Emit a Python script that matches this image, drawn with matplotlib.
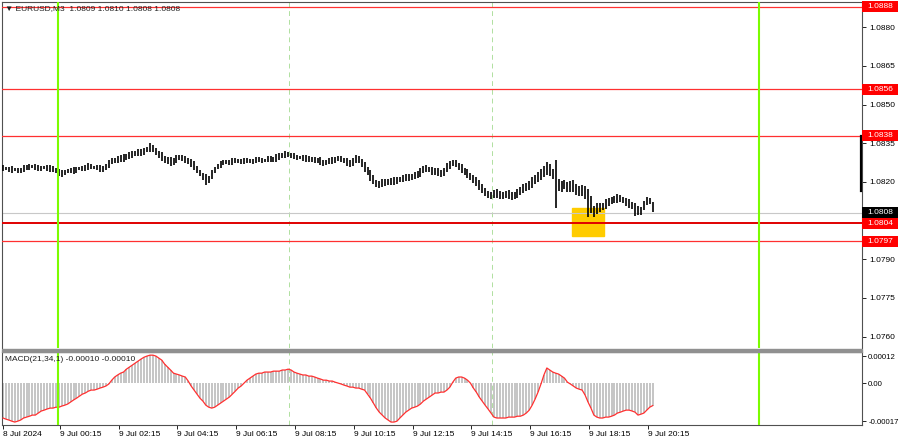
import matplotlib
matplotlib.use('Agg')
import matplotlib.pyplot as plt
from matplotlib.patches import Rectangle

plt.rcParams['font.family'] = ['Liberation Sans', 'DejaVu Sans']

# EURUSD M3 closes (one value per drawn bar)
closes = [
    1.08254, 1.08250, 1.08247, 1.08250, 1.08247, 1.08243, 1.08247, 1.08258, 1.08254, 1.08262,
    1.08258, 1.08258, 1.08250, 1.08254, 1.08258, 1.08250, 1.08254, 1.08247, 1.08243, 1.08231,
    1.08235, 1.08239, 1.08243, 1.08247, 1.08243, 1.08250, 1.08254, 1.08250, 1.08258, 1.08262,
    1.08258, 1.08254, 1.08258, 1.08247, 1.08254, 1.08262,
    1.08278, 1.08285, 1.08281, 1.08293, 1.08289, 1.08297, 1.08297, 1.08309, 1.08305, 1.08313,
    1.08316, 1.08313, 1.08324, 1.08328, 1.08336,
    1.08324, 1.08313, 1.08301, 1.08293, 1.08281, 1.08285, 1.08274, 1.08285, 1.08293, 1.08297,
    1.08289, 1.08285, 1.08278, 1.08270, 1.08254, 1.08243, 1.08227, 1.08216, 1.08204, 1.08216,
    1.08239, 1.08254, 1.08266, 1.08270, 1.08278, 1.08274, 1.08278, 1.08281, 1.08285, 1.08278,
    1.08281, 1.08281, 1.08285, 1.08278, 1.08281, 1.08289, 1.08285, 1.08281, 1.08285, 1.08293,
    1.08285, 1.08289, 1.08297, 1.08301, 1.08305,
    1.08309, 1.08301, 1.08305, 1.08297, 1.08293, 1.08297, 1.08289, 1.08293, 1.08285, 1.08289,
    1.08281, 1.08285, 1.08278, 1.08270, 1.08278, 1.08285, 1.08281, 1.08289, 1.08293, 1.08285,
    1.08281, 1.08274, 1.08270, 1.08285, 1.08293, 1.08281, 1.08266,
    1.08250, 1.08235, 1.08216, 1.08200, 1.08188, 1.08192, 1.08200, 1.08196, 1.08204, 1.08200,
    1.08208, 1.08204, 1.08212, 1.08216, 1.08219, 1.08216, 1.08223, 1.08227, 1.08231, 1.08243,
    1.08254, 1.08250, 1.08247, 1.08239, 1.08243, 1.08235, 1.08231, 1.08247,
    1.08262, 1.08270, 1.08278, 1.08266, 1.08254, 1.08247, 1.08235, 1.08227, 1.08216, 1.08208,
    1.08196, 1.08181, 1.08165, 1.08157, 1.08146, 1.08150, 1.08157, 1.08153, 1.08146, 1.08150,
    1.08153, 1.08150, 1.08142, 1.08153, 1.08161, 1.08169, 1.08177, 1.08184, 1.08192, 1.08204,
    1.08216, 1.08223, 1.08235, 1.08247, 1.08254, 1.08239, 1.08223, 1.08208, 1.08169, 1.08196,
    1.08184, 1.08177, 1.08188, 1.08181, 1.08161, 1.08169, 1.08165, 1.08153, 1.08146, 1.08080,
    1.08091, 1.08103, 1.08099, 1.08111, 1.08118, 1.08126, 1.08130, 1.08134, 1.08138, 1.08134,
    1.08126, 1.08118, 1.08115, 1.08103, 1.08095, 1.08080, 1.08095, 1.08122, 1.08130, 1.08122,
    1.08084,
]

# high-low span of each bar, in pips
bar_span = [
    2, 1.5, 2, 2.5, 1.5, 2, 2, 3, 2, 2.5, 1.5, 2, 2.5, 2, 1.5, 2, 2.5, 2, 2, 3,
    2.5, 2, 1.5, 2, 2.5, 2, 1.5, 2, 2.5, 3, 2, 1.5, 2, 3, 2, 2.5, 3, 2.5, 2, 3,
    2.5, 3, 2, 3, 2.5, 2, 3, 2.5, 3, 2, 3.5, 3, 2.5, 3, 3.5, 2.5, 3, 3.5, 2.5, 3,
    2, 2.5, 3, 2.5, 3, 3.5, 3, 2.5, 3, 4, 3, 3.5, 2.5, 2, 2.5, 2, 1.5, 2, 2.5, 2,
    1.5, 2, 2.5, 2, 1.5, 2, 2.5, 2, 2, 1.5, 2, 2.5, 2, 3, 2.5, 2, 2.5, 2, 2, 2.5,
    2, 1.5, 2, 2.5, 2, 2, 2.5, 2, 3, 2.5, 2, 2, 2.5, 2, 2, 2.5, 2, 3, 2.5, 3,
    3, 2.5, 3, 3.5, 3, 4, 3.5, 3, 2.5, 3, 2.5, 2, 2.5, 3, 2.5, 2, 2.5, 3, 2.5, 2,
    2.5, 3, 3.5, 3, 2.5, 2, 3, 2.5, 3, 2.5, 3, 3.5, 3, 2.5, 3, 3, 3.5, 3, 3.5, 3,
    3, 3.5, 4, 3.5, 3, 3, 2.5, 3, 3.5, 3, 2.5, 3, 3.5, 3, 3, 3.5, 3, 3.5, 3, 3.5,
    4, 3.5, 4, 4.5, 4, 5, 4.5, 4, 4, 4.5, 4, 3.5, 4, 4.5, 5, 4.5, 4, 4.5, 5, 5,
    5, 4.5, 4, 3.5, 3, 3.5, 3, 2.5, 3, 3.5, 3, 2.5, 3, 3.5, 3, 4, 3.5, 3, 3.5, 3,
    2.5, 3,
]

# long wicks that stick out of the normal bar span
wick_idx = [69, 188, 199, 215]
wick_high = [1.08216, 1.08285, 1.08150, 1.08095]
wick_low = [1.08196, 1.08099, 1.08064, 1.08068]

# MACD(21,34,1) main value, in units of 1e-5
macd_e5 = [
    -15.5, -16.0, -16.4, -16.9, -17.3, -16.9, -16.4, -15.5, -15.1, -14.7,
    -14.2, -14.2, -13.3, -12.4, -12.0, -11.5, -11.1, -11.1, -10.7, -10.7,
    -10.2, -9.8, -9.3, -8.4, -7.5, -6.7, -5.8, -4.9, -4.4, -3.6,
    -3.1, -3.1, -2.7, -2.2, -1.8, -1.3, -0.4, 1.3, 2.7, 3.6,
    4.4, 4.9, 6.2, 7.1, 8.0, 8.9, 9.8, 10.7, 11.5, 12.0,
    12.4, 12.4, 12.0, 11.1, 10.2, 8.4, 7.1, 5.8, 4.4, 4.0,
    3.6, 3.1, 2.7, 0.9, -1.3, -3.1, -4.9, -6.7, -8.0, -9.8,
    -10.7, -11.1, -10.7, -9.8, -8.9, -8.0, -7.1, -6.2, -4.9, -3.6,
    -2.2, -1.3, 0.0, 1.3, 2.2, 3.1, 4.0, 4.4, 4.4, 4.9,
    4.9, 4.9, 5.3, 5.3, 5.3, 5.8, 5.8, 6.2, 5.8, 4.9,
    4.4, 4.0, 3.6, 3.6, 3.1, 3.1, 2.7, 2.2, 1.8, 1.3,
    1.3, 0.9, 0.9, 0.4, 0.0, -0.4, -0.9, -1.3, -1.8, -1.8,
    -2.2, -2.2, -2.7, -3.1, -4.9, -6.7, -8.9, -11.1, -12.9, -14.2,
    -15.5, -16.4, -17.3, -17.3, -16.9, -15.5, -14.2, -12.9, -12.0, -11.1,
    -10.7, -10.2, -9.3, -8.0, -7.1, -6.2, -5.3, -4.4, -4.4, -4.0,
    -4.0, -3.1, -1.8, 0.4, 2.2, 2.7, 2.7, 2.2, 1.3, 0.0,
    -2.2, -4.0, -6.2, -8.0, -9.8, -11.5, -13.3, -15.1, -15.5, -15.5,
    -15.5, -15.5, -15.1, -15.1, -15.1, -14.7, -14.7, -14.2, -13.3, -12.0,
    -9.8, -7.1, -4.0, -0.4, 3.6, 6.7, 5.8, 4.9, 4.4, 4.0,
    3.1, 2.2, 0.4, -0.4, -1.3, -2.2, -2.7, -3.1, -5.3, -8.4,
    -11.1, -14.2, -15.1, -15.5, -15.5, -15.1, -15.1, -14.7, -14.2, -13.3,
    -12.9, -12.4, -12.0, -12.0, -12.4, -12.9, -14.2, -13.8, -13.3, -12.0,
    -10.7, -10.0,
]

red_levels = [1.0888, 1.0856, 1.0838, 1.0804, 1.0797]
current_price = 1.0808
day_range = (1.08165, 1.0838)
price_ticks = [1.0880, 1.0865, 1.0850, 1.0835, 1.0820, 1.0790, 1.0775, 1.0760]
macd_ticks = [0.00012, 0.0, -0.00017]
macd_tick_labels = ['0.00012', '0.00', '-0.00017']
time_labels = ['8 Jul 2024', '9 Jul 00:15', '9 Jul 02:15', '9 Jul 04:15', '9 Jul 06:15',
               '9 Jul 08:15', '9 Jul 10:15', '9 Jul 12:15', '9 Jul 14:15', '9 Jul 16:15',
               '9 Jul 18:15', '9 Jul 20:15']
time_pos = [0, 19.3, 39.3, 59.3, 79.3, 99.3, 119.3, 139.3, 159.3, 179.3, 199.3, 219.3]
green_lines = [18.6, 257.3]
session_lines = [97.3, 166.4]
box_bars = (193.6, 204.4)
box_prices = (1.07990, 1.08099)

FS = 6.0
RED = '#FF0000'
GREEN = '#7CFC00'

fig = plt.figure(figsize=(9, 4.41), dpi=100)
fig.patch.set_facecolor('white')
ax = fig.add_axes([2 / 900, 1 - 348 / 441, 860 / 900, 346 / 441])
axm = fig.add_axes([2 / 900, 1 - 425 / 441, 860 / 900, 73 / 441], sharex=ax)

n = len(closes)
x = list(range(n))
lo, hi = [], []
for i in range(n):
    o = closes[i - 1] if i > 0 else closes[i]
    mid = (o + closes[i]) / 2
    half = bar_span[i] * 0.0001 / 2
    lo.append(min(o, closes[i], mid - half))
    hi.append(max(o, closes[i], mid + half))
for k, i in enumerate(wick_idx):
    lo[i] = min(lo[i], wick_low[k])
    hi[i] = max(hi[i], wick_high[k])

# --- price panel ---
ax.add_patch(Rectangle((box_bars[0], box_prices[0]), box_bars[1] - box_bars[0],
                       box_prices[1] - box_prices[0], color='#FFCC00', zorder=1))
ax.vlines(x, lo, hi, color='black', linewidth=1.2, zorder=3)

for lvl in red_levels:
    if lvl == 1.0804:
        ax.axhline(lvl, color='#E00000', linewidth=1.4, zorder=4)
    else:
        ax.axhline(lvl, color='#FF3030', linewidth=0.9, zorder=4)
ax.axhline(current_price, color='#C8C8C8', linewidth=0.8, zorder=2)

for gx in green_lines:
    for a in (ax, axm):
        a.axvline(gx, color=GREEN, linewidth=1.5, zorder=5)
for sx in session_lines:
    for a in (ax, axm):
        a.axvline(sx, color='#B0E0A0', linewidth=0.7, linestyle=(0, (5, 4)), zorder=0)

ax.set_xlim(-0.34, 292.2)
ax.set_ylim(1.07556, 1.08898)
ax.yaxis.tick_right()
ax.set_yticks(price_ticks)
ax.set_yticklabels(['%.4f' % p for p in price_ticks])
ax.tick_params(axis='y', length=3, width=0.6, labelsize=FS, pad=2, colors='black')
ax.tick_params(axis='x', bottom=False, labelbottom=False)
for s in ax.spines.values():
    s.set_color('#505050')
    s.set_linewidth(0.8)
ax.spines['bottom'].set_visible(False)

# daily range marker at the right edge
ax.plot([291.8, 291.8], day_range, color='black', linewidth=1.6, clip_on=False, zorder=6)

# boxed price labels on the right scale
ytr = ax.get_yaxis_transform()
box_w = 36 / 860
box_h = 0.000420
for lvl, fc in [(l, RED) for l in red_levels] + [(current_price, 'black')]:
    ax.add_patch(Rectangle((1.0, lvl - box_h / 2), box_w, box_h, transform=ytr,
                           fc=fc, ec='none', clip_on=False, zorder=10))
    ax.text(1.0 + box_w / 2, lvl, '%.4f' % lvl, transform=ytr, fontsize=FS,
            color='white', va='center', ha='center', zorder=11, clip_on=False)

ax.text(0.004, 0.992, '\u25bc EURUSD,M3  1.0809 1.0810 1.0808 1.0808', transform=ax.transAxes,
        fontsize=FS, color='#202020', va='top', ha='left', zorder=10,
        family=['Liberation Sans', 'DejaVu Sans'])

# --- MACD panel ---
macd = [v * 1e-5 for v in macd_e5]
axm.vlines(x, 0, macd, color='#C0C0C0', linewidth=1.3, zorder=2)
axm.plot(x, macd, color='#FF3030', linewidth=0.9, zorder=3)
axm.set_ylim(-0.000186, 0.000138)
axm.yaxis.tick_right()
axm.set_yticks(macd_ticks)
axm.set_yticklabels(macd_tick_labels)
axm.tick_params(axis='y', length=3, width=0.6, labelsize=5.6, pad=1.5)
axm.set_xticks(time_pos)
axm.set_xticklabels(time_labels)
axm.tick_params(axis='x', length=3, width=0.6, labelsize=FS, pad=1)
for lab in axm.get_xticklabels():
    lab.set_horizontalalignment('left')
for s in axm.spines.values():
    s.set_color('#505050')
    s.set_linewidth(0.8)
axm.text(0.004, 0.94, 'MACD(21,34,1) -0.00010 -0.00010', transform=axm.transAxes,
         fontsize=FS, color='#202020', va='top', ha='left', zorder=10)

# grey separator between panels
fig.patches.append(Rectangle((2 / 900, 1 - 352 / 441), 860 / 900, 3 / 441,
                             transform=fig.transFigure, color='#909090', zorder=10))

fig.savefig('out.png', dpi=100)
